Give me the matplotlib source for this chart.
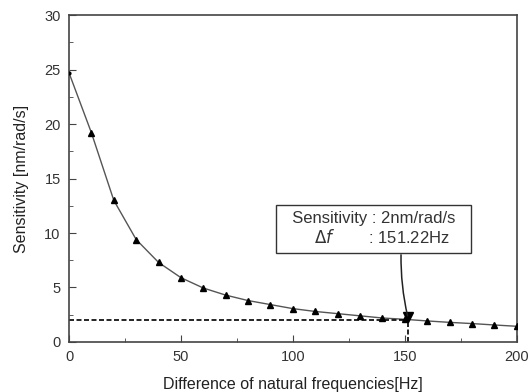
import numpy as np
import matplotlib.pyplot as plt
from matplotlib.ticker import MultipleLocator

plt.rcParams['font.family'] = ['Liberation Sans', 'DejaVu Sans']

# difference of natural frequencies [Hz] and sensitivity [nm/rad/s]
freq = [0, 10, 20, 30, 40, 50, 60, 70, 80, 90, 100,
        110, 120, 130, 140, 150, 160, 170, 180, 190, 200]
sens = [24.7, 19.2, 13.0, 9.4, 7.3, 5.9, 4.95, 4.3, 3.8, 3.43, 3.06,
        2.8, 2.6, 2.4, 2.2, 2.08, 1.93, 1.8, 1.69, 1.56, 1.44]

target_sens = 2.0
target_df = 151.22

fig = plt.figure(figsize=(5.28, 3.92), dpi=100)
ax = fig.add_axes([0.1307, 0.1276, 0.848, 0.834])

ax.plot(freq, sens, color='#555555', linewidth=1.0, zorder=2)
ax.plot(freq[1:], sens[1:], linestyle='none', marker='^', markersize=5,
        color='black', zorder=3)
ax.plot(freq[0], sens[0], linestyle='none', marker='o', markersize=2,
        color='black', zorder=3)

# dashed guide lines at the operating point
ax.plot([0, target_df], [target_sens, target_sens], color='black',
        linestyle='--', linewidth=1.2, dashes=(3, 1.5))
ax.plot([target_df, target_df], [0, target_sens], color='black',
        linestyle='--', linewidth=1.2, dashes=(3, 1.5))
ax.plot(target_df, target_sens + 0.3, marker='v', markersize=6.5, color='black')

ax.text(136, 10.4, '  Sensitivity : 2nm/rad/s  \n     $\\Delta f$        : 151.22Hz  ',
        fontsize=12, color='#333333', ha='center', va='center',
        linespacing=1.1,
        bbox=dict(boxstyle='square,pad=0.4', fc='white', ec='#333333', lw=1.0))
ax.annotate('', xy=(target_df, target_sens + 0.4), xytext=(148.3, 8.0),
            arrowprops=dict(arrowstyle='-', color='#222222', lw=1.1,
                            connectionstyle='arc3,rad=0.06',
                            shrinkA=0, shrinkB=0))

ax.set_xlim(0, 200)
ax.set_ylim(0, 30)
ax.xaxis.set_major_locator(MultipleLocator(50))
ax.xaxis.set_minor_locator(MultipleLocator(25))
ax.yaxis.set_major_locator(MultipleLocator(5))
ax.yaxis.set_minor_locator(MultipleLocator(2.5))
ax.tick_params(which='both', direction='in', top=False, right=False,
               labelsize=10.5, labelcolor='#333333', color='#444444')
ax.tick_params(which='major', length=5, pad=6)
ax.tick_params(which='minor', length=3)
for s in ax.spines.values():
    s.set_color('#444444')
    s.set_linewidth(1.2)

ax.set_xlabel('Difference of natural frequencies[Hz]', fontsize=11.5,
              color='#222222', labelpad=9)
ax.set_ylabel('Sensitivity [nm/rad/s]', fontsize=11.5, color='#222222',
              labelpad=11)

fig.savefig('out.png', dpi=100)
